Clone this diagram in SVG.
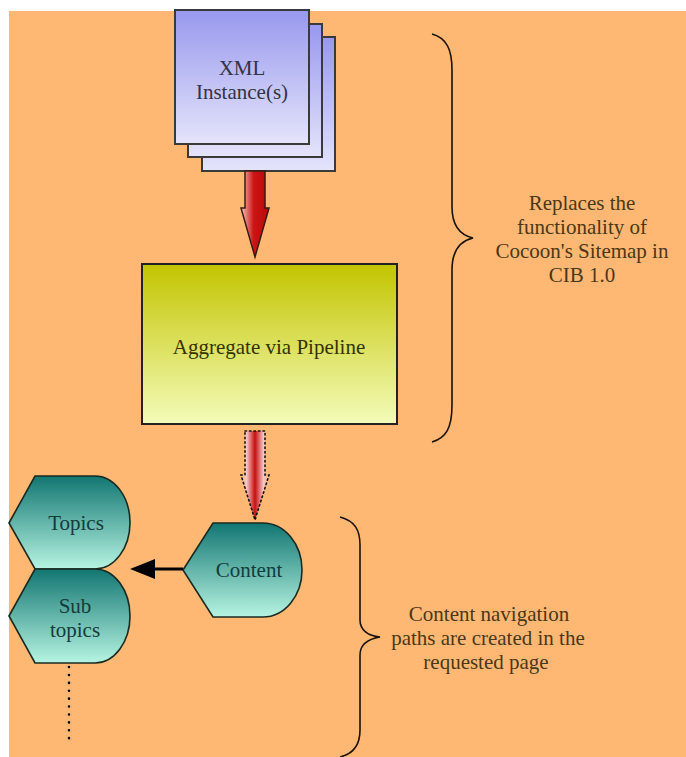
<svg xmlns="http://www.w3.org/2000/svg" width="686" height="757" viewBox="0 0 686 757">
<defs>
<linearGradient id="gBlue" x1="0" y1="0" x2="0" y2="1"><stop offset="0" stop-color="#9898EE"/><stop offset="1" stop-color="#E4E4FB"/></linearGradient>
<linearGradient id="gYel" x1="0" y1="0" x2="0" y2="1"><stop offset="0" stop-color="#C3C400"/><stop offset="1" stop-color="#F4FCBA"/></linearGradient>
<linearGradient id="gTeal" x1="0" y1="0" x2="0" y2="1"><stop offset="0" stop-color="#127672"/><stop offset="1" stop-color="#B6F4E2"/></linearGradient>
<linearGradient id="gRed" x1="0" y1="0" x2="1" y2="0"><stop offset="0" stop-color="#F6C8C0"/><stop offset="0.45" stop-color="#CC1414"/><stop offset="1" stop-color="#B80A0A"/></linearGradient>
<linearGradient id="gRed2" x1="0" y1="0" x2="1" y2="0"><stop offset="0" stop-color="#FFB874"/><stop offset="0.2" stop-color="#F4C6C6"/><stop offset="0.5" stop-color="#C80E0E"/><stop offset="0.8" stop-color="#F4C6C6"/><stop offset="1" stop-color="#FFB874"/></linearGradient>
</defs>
<style>
.doc{fill:url(#gBlue);stroke:#3a3a3a;stroke-width:2}
.lbl{font-family:"Liberation Serif","Times New Roman",serif;font-size:21px;text-anchor:middle}
.tl{fill:#123c3c}
.note{fill:#4a3818}
.brace{fill:none;stroke:#1a1208;stroke-width:1.6}
.hex{fill:url(#gTeal);stroke:#1a2a20;stroke-width:1.6}
</style>
<rect x="9" y="11" width="677" height="746" fill="#FFB874"/>

<g id="xml">
<rect class="doc" x="202" y="37" width="133" height="134"/>
<rect class="doc" x="188" y="24" width="134" height="133"/>
<rect class="doc" x="175" y="10" width="134" height="134"/>
<text class="lbl" x="242" y="75" fill="#333344">XML</text>
<text class="lbl" x="242" y="99" fill="#333344">Instance(s)</text>
</g>

<g id="aggregate">
<rect x="142" y="264" width="255" height="160" fill="url(#gYel)" stroke="#222" stroke-width="2"/>
<text class="lbl" x="269" y="354" fill="#333300">Aggregate via Pipeline</text>
</g>

<g id="content">
<path class="hex" d="M183,570 L213,523 L263,523 A39,47 0 0 1 263,617 L213,617 Z"/>
<text class="lbl tl" x="249" y="577">Content</text>
</g>

<g id="topics">
<path class="hex" d="M9,523 L35,476 L95,476 A35,46.5 0 0 1 95,569 L35,569 Z"/>
<text class="lbl tl" x="76" y="530">Topics</text>
</g>

<g id="subtopics">
<path class="hex" d="M9,616 L35,569 L95,569 A35,47 0 0 1 95,663 L35,663 Z"/>
<text class="lbl tl" x="75" y="613">Sub</text>
<text class="lbl tl" x="75" y="637">topics</text>
</g>

<g id="connectors">
<path d="M245,171 L265,171 L265,208 L269,208 L255,257 L241,208 L245,208 Z" fill="url(#gRed)" stroke="#3a1a10" stroke-width="1.5"/>
<path d="M245,431 L265,431 L265,475 L269,475 L255,520 L241,475 L245,475 Z" fill="url(#gRed2)" stroke="#111" stroke-width="1.6" stroke-dasharray="1.5,3" stroke-linecap="round"/>
<line x1="183" y1="569" x2="152" y2="569" stroke="#000" stroke-width="3"/>
<path d="M155,559 L130,569 L155,579 Z" fill="#000"/>
<line x1="69" y1="667" x2="69" y2="745" stroke="#000" stroke-width="2.5" stroke-dasharray="0.1,7.8" stroke-linecap="round"/>
</g>

<g id="note1">
<path class="brace" d="M432,34 C447,38 452,50 452,70 L452,207 C452,225 460,235 473,238 C460,241 452,251 452,270 L452,405 C452,428 446,438 432,442"/>
<text class="lbl note" x="582" y="210">Replaces the</text>
<text class="lbl note" x="582" y="234">functionality of</text>
<text class="lbl note" x="582" y="258">Cocoon's Sitemap in</text>
<text class="lbl note" x="582" y="282">CIB 1.0</text>
</g>

<g id="note2">
<path class="brace" d="M340,517 C355,521 360,530 360,545 L360,620 C360,630 368,636 380,637 C368,639 360,645 360,655 L360,730 C360,745 353,754 340,757"/>
<text class="lbl note" x="489" y="621">Content navigation</text>
<text class="lbl note" x="488" y="645">paths are created in the</text>
<text class="lbl note" x="486" y="669">requested page</text>
</g>
</svg>
